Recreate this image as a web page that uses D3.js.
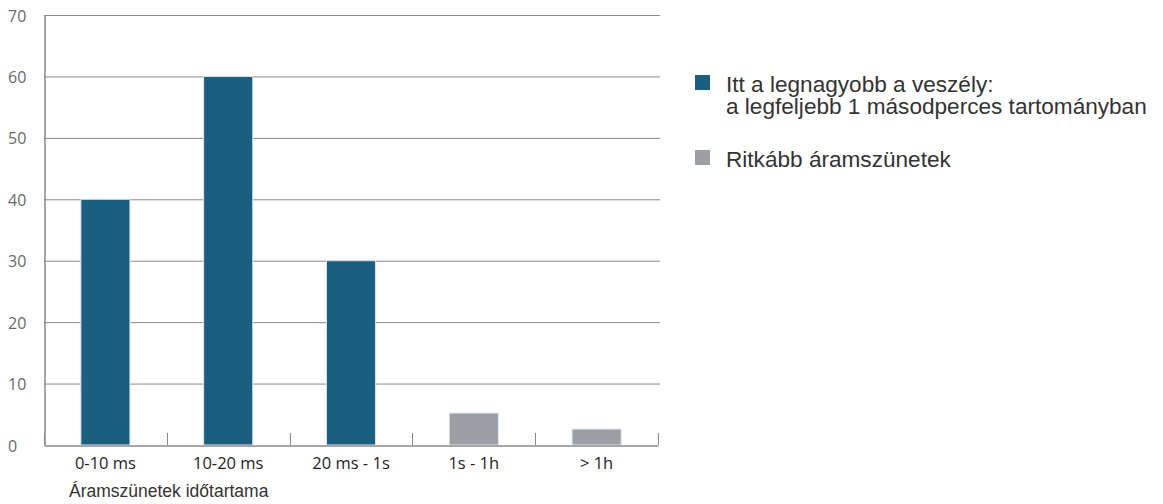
<!DOCTYPE html>
<html><head><meta charset="utf-8">
<script src="https://cdn.jsdelivr.net/npm/d3@7"></script>
<style>body{margin:0;background:#fff}svg{display:block}</style>
</head><body>
<svg id="c" width="1163" height="504"></svg>
<script>
const categories = ["0-10 ms", "10-20 ms", "20 ms - 1s", "1s - 1h", "> 1h"];
const values = [40, 60, 30, 5.2, 2.6];
const seriesOf = ["danger", "danger", "danger", "rare", "rare"];
const yTicks = [0, 10, 20, 30, 40, 50, 60, 70];
const legendLabels = [["Itt a legnagyobb a veszély:", "a legfeljebb 1 másodperces tartományban"], ["Ritkább áramszünetek"]];
const xTitle = "Áramszünetek időtartama";

(function () {
const colors = {danger: "#1a5f80", rare: "#9b9fa3"};
const svg = d3.select("#c");
const mL = 44, mR = 658, mT = 15, mB = 445;
const x = d3.scaleBand().domain(categories).range([mL, mR]).paddingInner(0.6).paddingOuter(0.3);
const xb = d3.scaleBand().domain(categories).range([mL, mR]);
const y = d3.scaleLinear().domain([0, 70]).range([mB, mT]);

// gridlines
svg.append("g").selectAll("line").data(yTicks.filter(d => d > 0)).join("line")
  .attr("x1", mL).attr("x2", mR + 2).attr("y1", d => y(d) + 0.5).attr("y2", d => y(d) + 0.5)
  .attr("stroke", "#8a8a8a").attr("stroke-width", 1);

// y axis
const ya = svg.append("g").attr("transform", `translate(${mL + 0.5},0)`)
  .call(d3.axisLeft(y).tickValues(yTicks).tickSize(0).tickPadding(13));
ya.select(".domain").attr("stroke", "#8a8a8a").attr("stroke-width", 1.5);
ya.selectAll("text").attr("font-family", "'Open Sans', sans-serif").attr("font-size", 16).attr("fill", "#6a6a6a")
  .attr("text-anchor", "start").attr("x", -36.5).attr("dy", "0.38em");

// bars
svg.append("g").selectAll("rect").data(categories).join("rect")
  .attr("x", d => x(d)).attr("width", x.bandwidth())
  .attr("y", (d, i) => y(values[i])).attr("height", (d, i) => y(0) - y(values[i]))
  .attr("fill", (d, i) => colors[seriesOf[i]])
  .attr("stroke", "#dfe6ea").attr("stroke-width", 1);

// x axis
const xa = svg.append("g").attr("transform", `translate(0,${mB + 0.5})`)
  .call(d3.axisBottom(xb).tickSize(0).tickPadding(12));
xa.select(".domain").attr("stroke", "#8a8a8a").attr("stroke-width", 1.5);
xa.selectAll("text").attr("font-family", "'Open Sans', sans-serif")
  .attr("font-size", 16.5).attr("fill", "#1e1e1e");
const bounds = categories.map(c => xb(c)).concat([mR]);
svg.append("g").selectAll("line").data(bounds).join("line")
  .attr("x1", d => Math.round(d) + 0.5).attr("x2", d => Math.round(d) + 0.5)
  .attr("y1", mB).attr("y2", mB - 12)
  .attr("stroke", "#8a8a8a").attr("stroke-width", 1);

svg.append("text").attr("x", 69).attr("y", 496.5).text(xTitle)
  .attr("font-family", "'Liberation Sans', Arial, sans-serif").attr("font-size", 17.5).attr("fill", "#333");

// legend
const leg = svg.append("g");
const legY = [75, 150];
const legKeys = ["danger", "rare"];
legKeys.forEach((k, i) => {
  leg.append("rect").attr("x", 695).attr("y", legY[i]).attr("width", 15).attr("height", 15).attr("fill", colors[k]);
  legendLabels[i].forEach((t, j) => {
    leg.append("text").attr("x", 726).attr("y", legY[i] + 16.5 + j * 22.5).text(t)
      .attr("font-family", "'Liberation Sans', Arial, sans-serif").attr("font-size", 22.6).attr("fill", "#333");
  });
});
})();
</script>
</body></html>
